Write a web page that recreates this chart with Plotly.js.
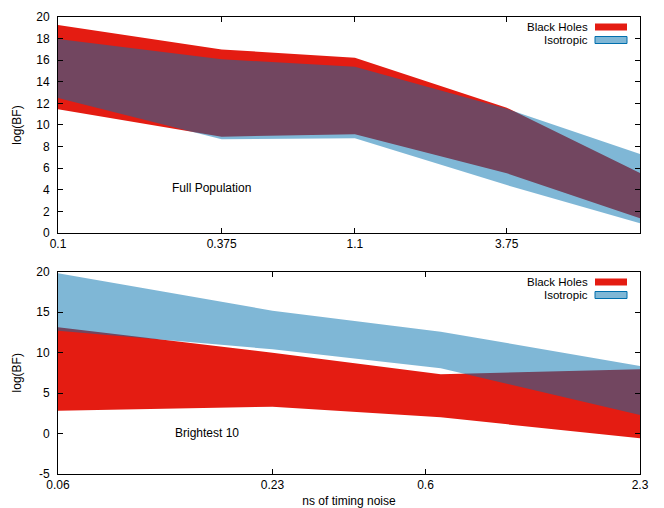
<!DOCTYPE html>
<html>
<head>
<meta charset="utf-8">
<script src="https://cdn.plot.ly/plotly-3.0.1.min.js"></script>
<style>html,body{margin:0;padding:0;background:#fff;}#chart{width:664px;height:508px;}</style>
</head>
<body>
<div id="chart"></div>
<script>
// Top panel: Full Population
var fullX = [0.1, 0.375, 1.1, 3.75, 11];
var fullBHLow = [11.45, 8.92, 9.14, 5.53, 1.36];
var fullBHHigh = [19.26, 17.0, 16.23, 11.6, 5.55];
var fullIsoLow = [12.5, 8.68, 8.77, 4.44, 0.9];
var fullIsoHigh = [17.96, 16.08, 15.4, 11.5, 7.31];
var fullTickVals = [0.1, 0.375, 1.1, 3.75];
var fullTickText = ["0.1", "0.375", "1.1", "3.75"];

// Bottom panel: Brightest 10
var brightX = [0.06, 0.23, 0.66, 2.3];
var brightBHLow = [2.81, 3.31, 2.0, -0.59];
var brightBHHigh = [13.11, 9.98, 7.31, 7.93];
var brightIsoLow = [12.69, 10.4, 8.05, 2.28];
var brightIsoHigh = [19.78, 15.16, 12.57, 8.33];
var brightTickVals = [0.06, 0.23, 0.6, 2.3];
var brightTickText = ["0.06", "0.23", "0.6", "2.3"];
var brightYTickVals = [-5, 0, 5, 10, 15, 20];
var brightYTickText = ["-5", "0", "5", "10", "15", "20"];

var seriesNames = ["Black Holes", "Isotropic"];
var panelLabels = ["Full Population", "Brightest 10"];

var RED = "rgb(228,28,18)";
var BLUE = "rgba(0,111,173,0.5)";
var BLUE_EDGE = "rgb(0,111,173)";
var FONT = "Liberation Sans, Arial, Helvetica, sans-serif";

function band(x, lo, hi, color, xa, ya, name) {
  return [
    {x: x, y: lo, type: "scatter", mode: "lines", line: {width: 0, color: color},
     xaxis: xa, yaxis: ya, showlegend: false, hoverinfo: "skip", name: name},
    {x: x, y: hi, type: "scatter", mode: "lines", line: {width: 0, color: color},
     fill: "tonexty", fillcolor: color, xaxis: xa, yaxis: ya, showlegend: false, name: name}
  ];
}

var data = []
  .concat(band(fullX, fullBHLow, fullBHHigh, RED, "x", "y", seriesNames[0]))
  .concat(band(fullX, fullIsoLow, fullIsoHigh, BLUE, "x", "y", seriesNames[1]))
  .concat(band(brightX, brightBHLow, brightBHHigh, RED, "x2", "y2", seriesNames[0]))
  .concat(band(brightX, brightIsoLow, brightIsoHigh, BLUE, "x2", "y2", seriesNames[1]));

var axBase = {
  showline: true, linecolor: "#000", linewidth: 1, mirror: "ticks",
  ticks: "inside", ticklen: 5, tickcolor: "#000", tickwidth: 1,
  showgrid: false, zeroline: false,
  tickfont: {family: FONT, size: 12, color: "#000"}
};
function ax(extra) { return Object.assign({}, axBase, extra); }

// legend swatches (paper coordinates)
var W = 664, H = 508, L = 58, R = 24, T = 17, B = 34;
var pw = W - L - R, ph = H - T - B;
function px(x) { return (x - L) / pw; }
function py(y) { return (H - B - y) / ph; }

var shapes = [], annotations = [];
[[23.5, 36.5], [278.5, 291.5]].forEach(function (ys, i) {
  shapes.push({type: "rect", xref: "paper", yref: "paper",
    x0: px(595), x1: px(627), y0: py(ys[0] + 7), y1: py(ys[0]),
    fillcolor: RED, line: {width: 0}});
  shapes.push({type: "rect", xref: "paper", yref: "paper",
    x0: px(595), x1: px(627), y0: py(ys[1] + 7), y1: py(ys[1]),
    fillcolor: BLUE, line: {width: 1, color: BLUE_EDGE}});
  annotations.push({xref: "paper", yref: "paper", x: px(589), y: py(ys[0] + 3.5),
    xanchor: "right", yanchor: "middle", text: seriesNames[0], showarrow: false,
    borderpad: 0, font: {family: FONT, size: 11.5, color: "#000"}});
  annotations.push({xref: "paper", yref: "paper", x: px(589), y: py(ys[1] + 3.5),
    xanchor: "right", yanchor: "middle", text: seriesNames[1], showarrow: false,
    borderpad: 0, font: {family: FONT, size: 11.5, color: "#000"}});
});
annotations.push({xref: "x", yref: "y", x: -0.46, y: 4.2, text: panelLabels[0],
  showarrow: false, font: {family: FONT, size: 12, color: "#000"}});
annotations.push({xref: "x2", yref: "y2", x: -0.816, y: 0.1, text: panelLabels[1],
  showarrow: false, font: {family: FONT, size: 12, color: "#000"}});

var layout = {
  width: W, height: H,
  margin: {l: L, r: R, t: T, b: B},
  paper_bgcolor: "#fff", plot_bgcolor: "#fff",
  showlegend: false,
  font: {family: FONT, size: 12, color: "#000"},
  xaxis: ax({type: "log", range: [-1, Math.log10(11)], tickvals: fullTickVals,
    ticktext: fullTickText, anchor: "y", domain: [0, 1]}),
  yaxis: ax({range: [0, 20], dtick: 2, tick0: 0, anchor: "x", domain: [0.5274, 1],
    ticklabelstandoff: 5,
    title: {text: "log(BF)", standoff: 12, font: {family: FONT, size: 12, color: "#000"}}}),
  xaxis2: ax({type: "log", range: [Math.log10(0.06), Math.log10(2.3)], tickvals: brightTickVals,
    ticktext: brightTickText, anchor: "y2", domain: [0, 1],
    title: {text: "ns of timing noise", standoff: 9, font: {family: FONT, size: 12, color: "#000"}}}),
  yaxis2: ax({range: [-5, 20], tickvals: brightYTickVals, ticktext: brightYTickText,
    anchor: "x2", domain: [0, 0.4431], ticklabelstandoff: 5,
    title: {text: "log(BF)", standoff: 12, font: {family: FONT, size: 12, color: "#000"}}}),
  shapes: shapes,
  annotations: annotations
};

Plotly.newPlot("chart", data, layout, {staticPlot: true, displayModeBar: false});
</script>
</body>
</html>
